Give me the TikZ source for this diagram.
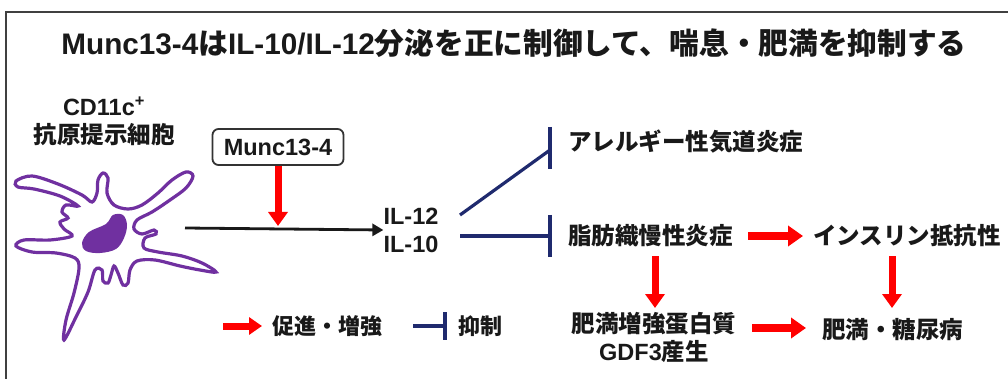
\documentclass[tikz,border=0pt]{standalone}
\usepackage{fontspec}
\setmainfont{Liberation Sans}
\newfontfamily\jp{Noto Sans CJK JP}
\usetikzlibrary{arrows.meta}
\definecolor{cellpurple}{HTML}{7030A0}
\definecolor{navy}{HTML}{1F2A6E}
\definecolor{arrowred}{HTML}{FF0000}
\tikzset{
  lbl/.style={inner sep=0pt, font=\fontsize{23.5}{28}\selectfont\bfseries, text=black!90},
  small/.style={lbl, font=\fontsize{22}{26}\selectfont\bfseries},
  redarr/.style={draw=arrowred, line width=8pt, -{Triangle[width=20pt,length=15pt]}, arrowred},
  inhib/.style={draw=navy, line width=3.2pt},
  flow/.style={draw=black!90, line width=2.8pt, -{Triangle[width=12pt,length=11pt]}},
  frame/.style={draw=black!75, line width=1.8pt}
}
\begin{document}
\begin{tikzpicture}[x=1pt,y=-1pt]
\useasboundingbox (0,0) rectangle (1008,379);
\fill[white] (0,0) rectangle (1008,379);
% outer frame (top and left edges)
\draw[frame] (6,379) -- (6,12) -- (1008,12);

% title
\node[lbl, font=\fontsize{29.7}{32}\selectfont\bfseries] (title) at (514,43)
  {Munc13-4{\jp は}IL-10/IL-12{\jp 分泌を正に制御して、喘息・肥満を抑制する}};

% antigen presenting cell
\node[lbl, align=center] (cd11c) at (104,121)
  {CD11c\textsuperscript{+}\\{\jp 抗原提示細胞}};
\draw[cellpurple, line width=3.2pt, fill=white] plot[smooth cycle, tension=0.55] coordinates {
  (16,181) (32,176) (58,184) (82,195) (92,202) (97,193) (98,180) (103,173)
  (108,178) (107,193) (114,205) (128,209) (142,205) (158,193) (172,180)
  (186,172) (193,176) (186,188) (170,200) (152,212) (137,220) (134,229)
  (142,234) (154,230) (156,234) (145,238) (144,248) (158,252) (182,256)
  (202,263) (216,272) (200,270) (180,266) (155,260) (137,261) (130,270)
  (128,283) (123,285) (118,273) (114,266) (111,275) (108,283) (103,281)
  (102,270) (95,270) (88,292) (76,317) (64,340) (66,320) (74,293) (79,268)
  (75,258) (56,253) (32,252) (16,246) (24,240) (50,240) (72,236) (64,229)
  (60,222) (68,218) (62,212) (66,205) (78,206) (60,196) (34,189) (18,187)};
\fill[cellpurple] plot[smooth cycle, tension=0.6] coordinates {
  (82,243) (89,232) (106,224) (113,215) (123,215) (127,225) (124,238)
  (116,249) (100,253) (86,251)};
\coordinate (cellout) at (185,228);

% Munc13-4 acting on the secretion arrow
\node[lbl, draw=black!80, line width=1.8pt, rounded corners=6pt,
      minimum width=131pt, minimum height=36pt] (munc) at (278,147) {Munc13-4};
\node[lbl, align=center] (il) at (411,230) {IL-12\\IL-10};
\coordinate (hit) at (278,226);
\draw[flow] (cellout) -- (il.west);
\draw[redarr, line width=7pt, -{Triangle[width=19pt,length=14pt]}] (munc.south) -- (hit);

% inhibition of the two inflammations
\coordinate (aS) at (460,215);
\coordinate (aE) at (550,150);
\coordinate (aT) at (550,127);
\coordinate (aB) at (550,169);
\coordinate (bS) at (460,236);
\coordinate (bE) at (550,236);
\coordinate (bT) at (550,215);
\coordinate (bB) at (550,257);
\draw[inhib] (aS) -- (aE);
\draw[inhib] (aT) -- (aB);
\draw[inhib] (bS) -- (bE);
\draw[inhib] (bT) -- (bB);
\node[lbl, anchor=west] (allergy) at (568,142) {\jp アレルギー性気道炎症};
\node[lbl, anchor=west] (fat) at (568,236) {\jp 脂肪織慢性炎症};
\node[lbl, anchor=west] (ins) at (813,236) {\jp インスリン抵抗性};

% lower row
\node[lbl, align=center] (gdf) at (654,337) {{\jp 肥満増強蛋白質}\\GDF3{\jp 産生}};
\node[lbl, anchor=west] (obese) at (822,330) {\jp 肥満・糖尿病};

\coordinate (h1) at (748,236);
\coordinate (h2) at (803,236);
\draw[redarr] (h1) -- (h2);
\coordinate (d1s) at (655,256);
\coordinate (d1e) at (655,308);
\coordinate (d2s) at (892,256);
\coordinate (d2e) at (892,308);
\draw[redarr, line width=7pt, -{Triangle[width=19pt,length=14pt]}] (d1s) -- (d1e);
\draw[redarr, line width=7pt, -{Triangle[width=19pt,length=14pt]}] (d2s) -- (d2e);
\coordinate (g1) at (752,328);
\coordinate (g2) at (806,328);
\draw[redarr] (g1) -- (g2);

% legend
\coordinate (l1) at (223,326);
\coordinate (l2) at (262,326);
\draw[redarr, line width=7pt, -{Triangle[width=17pt,length=13pt]}] (l1) -- (l2);
\node[small, anchor=west] (promote) at (272,326) {\jp 促進・増強};
\coordinate (m1) at (413,326);
\coordinate (m2) at (445,326);
\coordinate (mT) at (445,312);
\coordinate (mB) at (445,340);
\draw[inhib] (m1) -- (m2);
\draw[inhib] (mT) -- (mB);
\node[small, anchor=west] (suppress) at (458,326) {\jp 抑制};
\end{tikzpicture}
\end{document}
